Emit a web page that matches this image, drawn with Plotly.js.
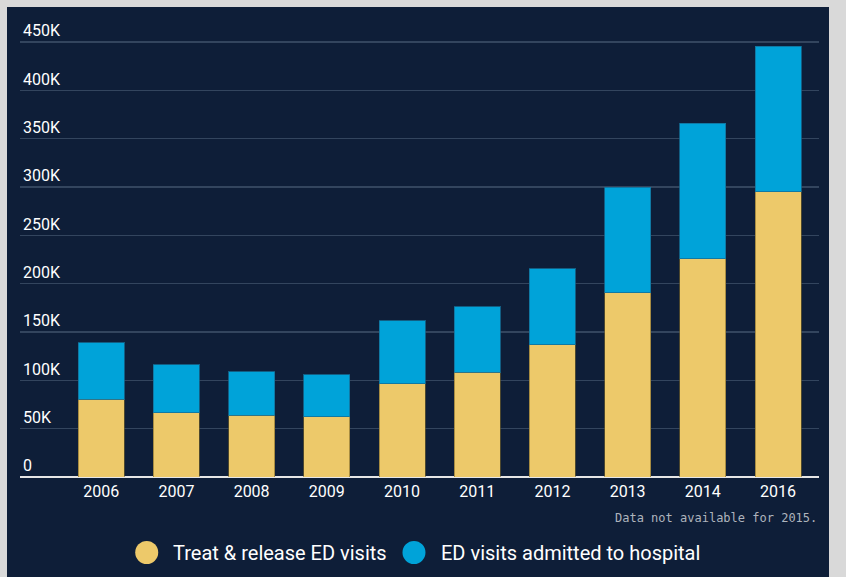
<!DOCTYPE html>
<html>
<head>
<meta charset="utf-8">
<script src="https://cdn.plot.ly/plotly-3.0.1.min.js"></script>
<style>
  html, body { margin: 0; padding: 0; background: #d9d9d9; width: 846px; height: 577px; overflow: hidden; }
  #chart { position: absolute; left: 7px; top: 7px; width: 822px; height: 570px; }
</style>
</head>
<body>
<div id="chart"></div>
<script>
// Data
const years = ["2006", "2007", "2008", "2009", "2010", "2011", "2012", "2013", "2014", "2016"];
const treatRelease = [80400, 66600, 63900, 62100, 96300, 108400, 137000, 190500, 225700, 295000];
const admitted = [58600, 49400, 44800, 43500, 65500, 67900, 78300, 109000, 140300, 150500];
const yTickVals = [0, 50000, 100000, 150000, 200000, 250000, 300000, 350000, 400000, 450000];
const yTickText = ["0", "50K", "100K", "150K", "200K", "250K", "300K", "350K", "400K", "450K"];
const seriesNames = ["Treat & release ED visits", "ED visits admitted to hospital"];
const noteText = "Data not available for 2015.";

const yellow = "#edc96a";
const blue = "#00a3d9";
const bg = "#0e1e38";

const traces = [
  {
    type: "bar", x: years, y: treatRelease, name: seriesNames[0],
    marker: { color: yellow, line: { color: "rgba(120,100,40,0.6)", width: 1 } },
    showlegend: false, hoverinfo: "skip"
  },
  {
    type: "bar", x: years, y: admitted, name: seriesNames[1],
    marker: { color: blue, line: { color: "rgba(20,110,150,0.8)", width: 1 } },
    showlegend: false, hoverinfo: "skip"
  }
];

// plot area: page y 13..477 (height 464), x 20..819
const plotH = 464;
const circleSize = 11.5;
const legendY = -75.5 / plotH;
const noteY = -40.5 / plotH;
const layout = {
  width: 822, height: 570,
  margin: { l: 13, r: 10, t: 6, b: 100 },
  paper_bgcolor: bg, plot_bgcolor: bg,
  barmode: "stack", bargap: 0.388,
  hovermode: false,
  showlegend: false,
  font: { family: "Roboto, sans-serif", color: "#ffffff" },
  xaxis: {
    type: "category", range: [-1.08, 9.545],
    showgrid: false, zeroline: false, showline: false,
    ticks: "", ticklabelstandoff: 3,
    tickfont: { size: 16, color: "#ffffff", family: "Roboto, sans-serif" },
    fixedrange: true
  },
  yaxis: {
    range: [0, 480000],
    tickvals: yTickVals, ticktext: yTickText,
    ticklabelposition: "inside top",
    showgrid: true, gridcolor: "#33455e", gridwidth: 1.5,
    zeroline: true, zerolinecolor: "#e6e6e6", zerolinewidth: 2.5,
    showline: false, ticks: "",
    tickfont: { size: 16, color: "#ffffff", family: "Roboto, sans-serif" },
    fixedrange: true
  },
  shapes: [
    { type: "circle", xref: "paper", yref: "paper", xsizemode: "pixel", ysizemode: "pixel",
      xanchor: 0.1586, yanchor: legendY, x0: -circleSize, x1: circleSize, y0: -circleSize, y1: circleSize,
      fillcolor: yellow, line: { width: 0 } },
    { type: "circle", xref: "paper", yref: "paper", xsizemode: "pixel", ysizemode: "pixel",
      xanchor: 0.4931, yanchor: legendY, x0: -circleSize, x1: circleSize, y0: -circleSize, y1: circleSize,
      fillcolor: blue, line: { width: 0 } }
  ],
  annotations: [
    { xref: "paper", yref: "paper", x: 0.1885, y: legendY, xanchor: "left", yanchor: "middle",
      text: seriesNames[0], showarrow: false, font: { size: 20, color: "#ffffff", family: "Roboto, sans-serif" } },
    { xref: "paper", yref: "paper", x: 0.5243, y: legendY, xanchor: "left", yanchor: "middle",
      text: seriesNames[1], showarrow: false, font: { size: 20, color: "#ffffff", family: "Roboto, sans-serif" } },
    { xref: "paper", yref: "paper", x: 1.0, y: noteY, xanchor: "right", yanchor: "middle",
      text: noteText, showarrow: false, font: { size: 12, color: "#aeb4bd", family: "DejaVu Sans Mono, monospace" } }
  ]
};

Plotly.newPlot("chart", traces, layout, { displayModeBar: false, staticPlot: true });
</script>
</body>
</html>
